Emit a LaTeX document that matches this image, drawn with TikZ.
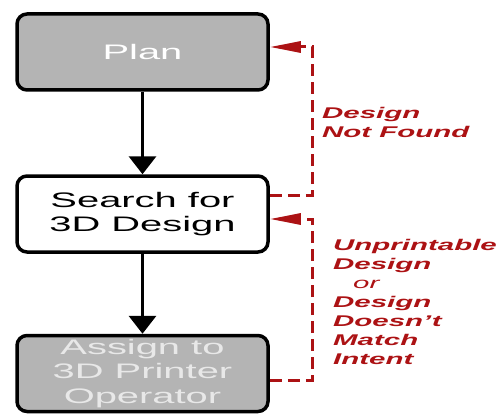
\documentclass[tikz,border=0pt]{standalone}
\usepackage{fontspec}
\setmainfont{Liberation Sans}
\newfontfamily\widesans[FakeStretch=1.9]{Liberation Sans}
\usepackage{xcolor}
\usetikzlibrary{arrows.meta}

\definecolor{loopred}{RGB}{172,18,20}
\definecolor{stepgray}{RGB}{180,180,180}
\definecolor{palegray}{RGB}{232,232,232}

\tikzset{
  stepbox/.style={draw=black, line width=3.5pt, rounded corners=10pt,
    minimum width=251pt, minimum height=76pt, inner sep=0pt, align=center,
    font=\widesans\fontsize{21}{24.5}\selectfont},
  flow/.style={line width=3.5pt, -{Triangle[width=27pt,length=18pt]}},
  loopback/.style={loopred, line width=3pt, dash pattern=on 12pt off 6pt,
    -{Triangle[width=11pt,length=31pt]}},
  note/.style={loopred, anchor=north west, inner sep=0pt, align=left,
    font=\widesans\fontsize{15.5}{19}\selectfont\bfseries\itshape}
}

\begin{document}
\begin{tikzpicture}[x=1pt, y=1pt]
  \useasboundingbox (0,0) rectangle (497,413);
  % i tre passi
  \node[stepbox, fill=stepgray, text=white] (plan) at (142.5,361) {Plan};
  \node[stepbox, fill=white] (search) at (142.5,199) {Search for\\3D Design};
  \node[stepbox, fill=stepgray, text=palegray] (assign) at (142.5,39.5) {Assign to\\3D Printer\\Operator};
  \draw[flow] (plan) -- (search);
  \draw[flow] (search) -- (assign);
  % ritorni tratteggiati
  \draw[loopback] ([yshift=19pt]search.east) -- ++(43,0) |- ([yshift=5pt]plan.east);
  \draw[loopback] ([yshift=-6.5pt]assign.east) -- ++(43,0) |- ([yshift=-5pt]search.east);
  \node[note] (notfound) at (322,306) {Design\\Not Found};
  \node[note] (mismatch) at (333,174) {Unprintable\\Design\\\hspace*{20pt}\mdseries or\\Design\\Doesn’t\\Match\\Intent};
\end{tikzpicture}
\end{document}
